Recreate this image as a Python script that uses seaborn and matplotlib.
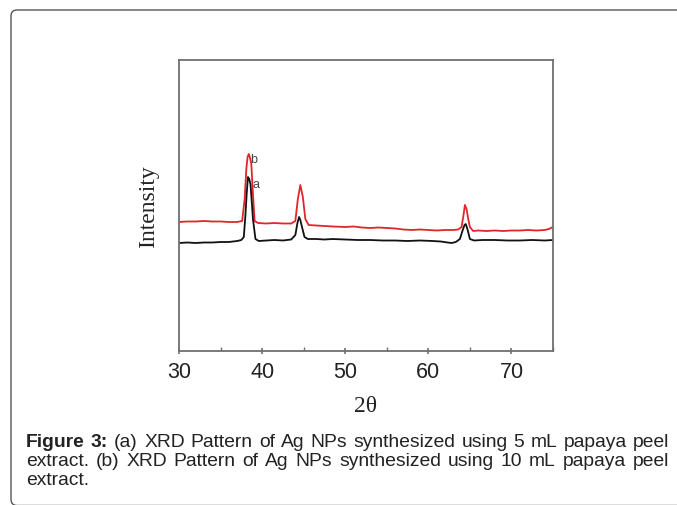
import numpy as np
import pandas as pd
import seaborn as sns
import matplotlib
matplotlib.use("Agg")
import matplotlib.pyplot as plt
from matplotlib.path import Path
from matplotlib.patches import PathPatch

# ---- data ----
two_theta_a = [30, 31, 32, 33, 34, 35, 36, 36.5, 37, 37.5, 37.8, 38.0, 38.15, 38.3, 38.45, 38.6, 38.75,
               38.9, 39.2, 39.6, 40.5, 41.5, 42.5, 43.5, 44.0, 44.25, 44.45, 44.6, 44.8, 45.1, 45.5,
               46.5, 47.5, 48.5, 50, 51.5, 53, 54.5, 56, 57.5, 59, 60.5, 61.5, 62.3, 62.8, 63.3,
               63.8, 64.1, 64.35, 64.5, 64.7, 65.0, 65.5, 66.5, 68, 69.5, 71, 72.5, 74, 75]
intensity_a = [108, 108.5, 108, 108.5, 108.5, 109, 109, 109.5, 110, 111, 114, 137, 158, 174, 172, 167, 150,
               132, 112, 110, 110.5, 111, 110.5, 111.5, 116, 128, 134, 131, 124, 114, 112,
               112, 111.5, 112, 111.5, 111, 111, 110.5, 110.5, 110, 110.5, 110, 109.5, 108.5, 108, 109,
               112, 120, 126, 127, 122, 112, 110.5, 111, 111, 110.5, 110.5, 111, 110.5, 111]

two_theta_b = [30, 31, 32, 33, 34, 35, 36, 37, 37.6, 37.9, 38.1, 38.25, 38.4, 38.55, 38.7, 38.9, 39.1,
               39.5, 40.5, 41.5, 42.5, 43.5, 44.0, 44.3, 44.6, 44.9, 45.2, 45.6, 46.5, 47.5, 48.5,
               50, 51, 52, 53, 54, 55, 56, 57, 58, 59, 60, 61, 62, 63, 63.6, 64.0, 64.2, 64.4,
               64.6, 64.8, 65.0, 65.4, 66, 67, 68, 69, 70, 71, 72, 73, 74, 74.5, 75]
intensity_b = [129, 129.5, 129.5, 130, 129.5, 129.5, 129, 129, 130, 152, 182, 194, 197, 193, 187, 157, 130,
               128, 127.5, 128, 127.5, 127.5, 130, 152, 166, 154, 132, 126, 125.5, 125, 124.5,
               124, 124.5, 123.5, 123, 123.5, 123, 122.5, 121.5, 121, 121.5, 121, 120.5, 121, 121, 121.5, 124, 134, 146,
               142, 132, 124, 120, 120.5, 120, 120.5, 120, 120.5, 120.5, 121, 120.5, 121, 122, 124]

x_ticks = [30, 40, 50, 60, 70]
caption_line1 = ["Figure", "3:", "(a)", "XRD", "Pattern", "of", "Ag", "NPs", "synthesized", "using", "5", "mL",
                 "papaya", "peel"]
caption_line2 = ["extract.", "(b)", "XRD", "Pattern", "of", "Ag", "NPs", "synthesized", "using", "10", "mL",
                 "papaya", "peel"]
caption_line3 = "extract."

W, H = 677, 506
sns.set_theme(style="ticks")
plt.rcParams['font.family'] = ['Liberation Sans', 'DejaVu Sans']

fig = plt.figure(figsize=(W / 100, H / 100), dpi=100)
fig.patch.set_facecolor("white")


def fx(px):
    return px / W


def fy(py):
    return 1 - py / H


# outer frame, open to the right, rounded on the left
verts = [(fx(720), fy(11)), (fx(17), fy(11)), (fx(11), fy(11)), (fx(11), fy(17)),
         (fx(11), fy(500)), (fx(11), fy(506.5)), (fx(17), fy(506.5)), (fx(720), fy(506.5))]
codes = [Path.MOVETO, Path.LINETO, Path.CURVE3, Path.CURVE3, Path.LINETO, Path.CURVE3, Path.CURVE3, Path.LINETO]
fig.patches.append(PathPatch(Path(verts, codes), transform=fig.transFigure, facecolor="none",
                             edgecolor="#555555", linewidth=1.0, clip_on=False))

ax = fig.add_axes([fx(179), fy(352), (553 - 179) / W, (352 - 61) / H])

df_a = pd.DataFrame({"two_theta": two_theta_a, "intensity": intensity_a})
df_b = pd.DataFrame({"two_theta": two_theta_b, "intensity": intensity_b})
sns.lineplot(data=df_b, x="two_theta", y="intensity", ax=ax, color="#e0262a", linewidth=1.3, estimator=None)
sns.lineplot(data=df_a, x="two_theta", y="intensity", ax=ax, color="#111111", linewidth=1.3, estimator=None)

ax.set_xlim(30, 75)
ax.set_ylim(0, 291)
ax.set_xticks(x_ticks)
ax.set_xticks([35, 45, 55, 65, 75], minor=True)
ax.set_yticks([])
for s in ax.spines.values():
    s.set_color("#707070")
    s.set_linewidth(1.3)
ax.tick_params(axis="x", which="major", direction="inout", length=5, width=1.2, color="#707070",
               labelsize=15.5, pad=5, labelcolor="#222222")
ax.tick_params(axis="x", which="minor", direction="in", length=3, width=1.0, color="#707070")
ax.set_xlabel("2θ", family=["Liberation Serif", "DejaVu Serif"], fontsize=17, color="#222222", labelpad=9)
ax.set_ylabel("Intensity", family=["Liberation Serif", "DejaVu Serif"], fontsize=17, color="#222222", labelpad=14)

# peak labels
ax.text(38.55, 192, "b", fontsize=9, color="#444444", ha="left", va="center")
ax.text(38.8, 167, "a", fontsize=9, color="#444444", ha="left", va="center")

# justified caption
fig.canvas.draw()
renderer = fig.canvas.get_renderer()
x_left, x_right = 26, 669

probe = fig.text(0, 0, " ".join(caption_line2), fontsize=10)
natural = probe.get_window_extent(renderer=renderer).width
probe.remove()
cap_size = 10 * (0.97 * (x_right - x_left)) / natural


def justified(words, y_px, bold_first=0):
    objs = []
    widths = []
    for i, w in enumerate(words):
        t = fig.text(0, 0, w, fontsize=cap_size, color="#222222",
                     fontweight="bold" if i < bold_first else "normal", va="baseline", ha="left")
        bb = t.get_window_extent(renderer=renderer)
        objs.append(t)
        widths.append(bb.width)
    gap = (x_right - x_left - sum(widths)) / (len(words) - 1)
    x = x_left
    for t, wd in zip(objs, widths):
        t.set_position((fx(x), fy(y_px)))
        x += wd + gap


justified(caption_line1, 447, bold_first=2)
justified(caption_line2, 466)
fig.text(fx(x_left), fy(485), caption_line3, fontsize=cap_size, color="#222222", va="baseline", ha="left")

fig.savefig("out.png", dpi=100, facecolor="white")
